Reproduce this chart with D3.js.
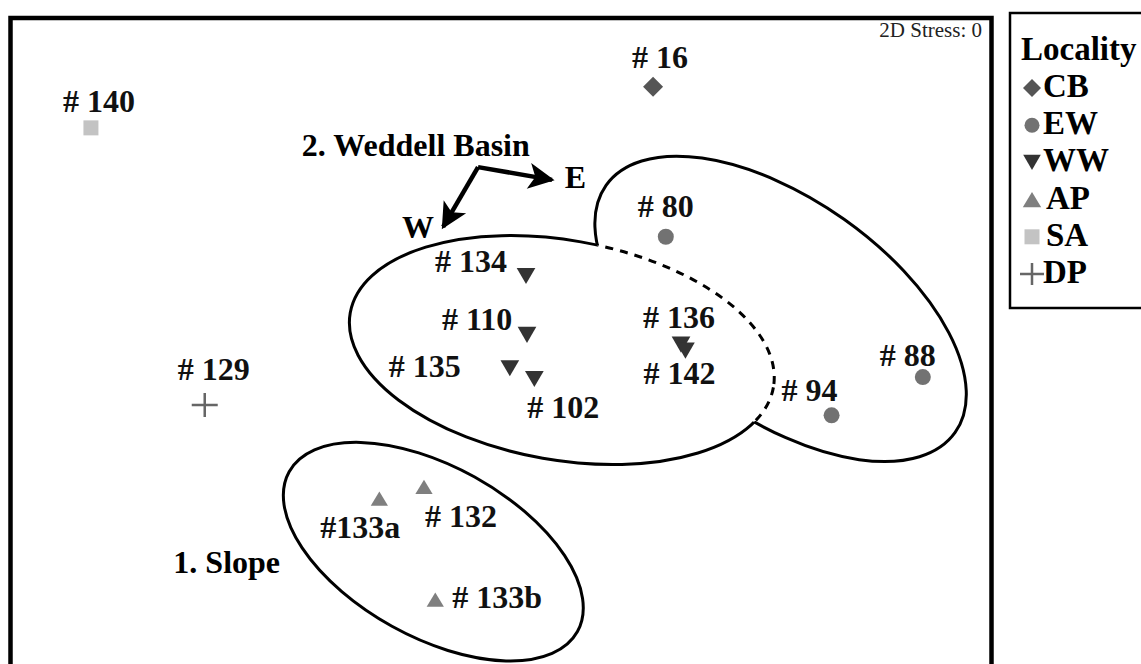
<!DOCTYPE html>
<html><head><meta charset="utf-8">
<script src="https://cdn.jsdelivr.net/npm/d3@7"></script>
<style>
html,body{margin:0;padding:0;background:#fff;}
svg{display:block;}
text{font-family:"Liberation Serif","Times New Roman",serif;}
</style></head>
<body>
<svg id="chart" width="1141" height="664"></svg>
<script>
// ---------- data ----------
const sampleIds  = ["# 16","# 140","# 80","# 94","# 88","# 134","# 110","# 135","# 102","# 136","# 142","#133a","# 132","# 133b","# 129"];
const localities = ["CB","SA","EW","EW","EW","WW","WW","WW","WW","WW","WW","AP","AP","AP","DP"];
const mds1 = [15.5,-41.8,16.8,33.7,43.0,2.55,2.65,0.9,3.4,18.35,18.8,-12.4,-7.85,-6.7,-30.2];
const mds2 = [26.0,21.8,10.7,-7.5,-3.6,6.7,0.7,-2.7,-3.8,-0.3,-0.9,-16.0,-14.8,-26.3,-6.45];
const legendLabels = ["CB","EW","WW","AP","SA","DP"];
const stressLabel = "2D Stress: 0";
// group outlines (data units): cx, cy, rx, ry, screen rotation (deg)
const groupNames = ["1. Slope","2. Weddell Basin"];
const slopeEllipse = {cx:-6.9, cy:-21.4, rx:16.8, ry:8.7, rot:29};
const wwEllipse    = {cx:6.2,  cy:-0.85, rx:21.9, ry:11.2, rot:10};
const ewEllipse    = {cx:28.5, cy:3.35,  rx:21.8, ry:11.2, rot:35.3};
// direction arrow (data units)
const arrowJunction = [-2.34, 17.8];
const arrowE = [5.2, 16.5];
const arrowW = [-5.9, 11.7];

// ---------- layout (pixels) ----------
const labelDx = [-21,-28,-28,-50,-43,-91,-85,-121,-7,-38,-42,-59,1,17,-27];
const labelDy = [-19,-16,-20,-14,-11,-4,-5,9,39,-17,33,39,40,8,-25];
const colors = {CB:"#555555", EW:"#727272", WW:"#333333", AP:"#7f7f7f", SA:"#c3c3c3", DP:"#666666"};

const svg = d3.select("#chart");
const PX = 9.81;
const xs = d3.scaleLinear().domain([-50, 50]).range([10.5, 10.5 + 100*PX]);
const ys = d3.scaleLinear().domain([33, -34]).range([18, 18 + 67*PX]);

function symbolPath(type, s) {
  const p = d3.path();
  if (type === "CB") { const h=s/2; p.moveTo(0,-h); p.lineTo(h,0); p.lineTo(0,h); p.lineTo(-h,0); p.closePath(); }
  else if (type === "SA") { const h=s/2; p.rect(-h,-h,s,s); }
  else if (type === "EW") { p.arc(0,0,s/2,0,2*Math.PI); }
  else if (type === "WW") { const w=s*1.1/2, h=s*0.95/2; p.moveTo(-w,-h); p.lineTo(w,-h); p.lineTo(0,h); p.closePath(); }
  else if (type === "AP") { const w=s*1.15/2, h=s*0.95/2; p.moveTo(-w,h); p.lineTo(w,h); p.lineTo(0,-h); p.closePath(); }
  else if (type === "DP") { const w=s/2, h=s*0.46; p.moveTo(-w,0); p.lineTo(w,0); p.moveTo(0,-h); p.lineTo(0,h); }
  return p.toString();
}
const markerSize = {CB:20, SA:15, EW:16, WW:17, AP:15, DP:26};
const legendSize = {CB:18, SA:15, EW:15, WW:16, AP:16, DP:24};

function drawSymbol(g, type, x, y, s) {
  const el = g.append("path").attr("d", symbolPath(type, s)).attr("transform", `translate(${x},${y})`);
  if (type === "DP") el.attr("fill","none").attr("stroke",colors[type]).attr("stroke-width",2.5);
  else el.attr("fill", colors[type]);
}

// ---------- frame ----------
svg.append("rect").attr("x",10.5).attr("y",18).attr("width",981).attr("height",700)
  .attr("fill","none").attr("stroke","#000").attr("stroke-width",4.5);

svg.append("text").attr("x",982).attr("y",37).attr("text-anchor","end")
  .attr("font-size",21).attr("fill","#222").text(stressLabel);

// ---------- group outlines ----------
function ellAttrs(sel, e) {
  const cx = xs(e.cx), cy = ys(e.cy);
  return sel.attr("cx",cx).attr("cy",cy).attr("rx",e.rx*PX).attr("ry",e.ry*PX)
    .attr("transform",`rotate(${e.rot} ${cx} ${cy})`);
}
const defs = svg.append("defs");
const mOutB = defs.append("mask").attr("id","outsideB").attr("maskUnits","userSpaceOnUse")
  .attr("x",0).attr("y",0).attr("width",1141).attr("height",664);
mOutB.append("rect").attr("width",1141).attr("height",664).attr("fill","#fff");
ellAttrs(mOutB.append("ellipse"), ewEllipse).attr("fill","#000");
const mOutA = defs.append("mask").attr("id","outsideA").attr("maskUnits","userSpaceOnUse")
  .attr("x",0).attr("y",0).attr("width",1141).attr("height",664);
mOutA.append("rect").attr("width",1141).attr("height",664).attr("fill","#fff");
ellAttrs(mOutA.append("ellipse"), wwEllipse).attr("fill","#000");
const cInB = defs.append("clipPath").attr("id","insideB");
ellAttrs(cInB.append("ellipse"), ewEllipse);

const hull = svg.append("g").attr("fill","none").attr("stroke","#000").attr("stroke-width",3);
ellAttrs(hull.append("g").attr("mask","url(#outsideB)").append("ellipse"), wwEllipse);
ellAttrs(hull.append("g").attr("mask","url(#outsideA)").append("ellipse"), ewEllipse);
ellAttrs(hull.append("g").attr("clip-path","url(#insideB)").append("ellipse"), wwEllipse)
  .attr("stroke-dasharray","8 7").attr("stroke-width",3);
ellAttrs(hull.append("ellipse"), slopeEllipse);

// ---------- arrow ----------
defs.append("marker").attr("id","ah").attr("viewBox","0 0 10 10").attr("refX",9).attr("refY",5)
  .attr("markerUnits","userSpaceOnUse").attr("markerWidth",30).attr("markerHeight",26).attr("orient","auto")
  .append("path").attr("d","M0,0 L10,5 L0,10 L2.5,5 Z").attr("fill","#000");
const ag = svg.append("g").attr("stroke","#000").attr("stroke-width",4.5).attr("fill","none");
[arrowE, arrowW].forEach(t => {
  ag.append("line").attr("x1",xs(arrowJunction[0])).attr("y1",ys(arrowJunction[1]))
    .attr("x2",xs(t[0])).attr("y2",ys(t[1])).attr("marker-end","url(#ah)");
});

// ---------- group labels ----------
const groupLabelPos = [[-33.4,-23.6],[-20.3,18.9]];
groupNames.forEach((n,i) => {
  svg.append("text").attr("x",xs(groupLabelPos[i][0])).attr("y",ys(groupLabelPos[i][1]))
    .attr("font-size",32).attr("font-weight","bold").text(n);
});
svg.append("text").attr("x",xs(6.5)).attr("y",ys(15.7)).attr("font-size",32).attr("font-weight","bold").text("E");
svg.append("text").attr("x",xs(-10.1)).attr("y",ys(10.6)).attr("font-size",32).attr("font-weight","bold").text("W");

// ---------- points ----------
const pts = svg.append("g");
sampleIds.forEach((id,i) => {
  const x = xs(mds1[i]), y = ys(mds2[i]), t = localities[i];
  drawSymbol(pts, t, x, y, markerSize[t]);
  pts.append("text").attr("x", x + labelDx[i]).attr("y", y + labelDy[i])
    .attr("font-size",32).attr("font-weight","bold").attr("fill","#111").text(id);
});

// ---------- legend ----------
svg.append("rect").attr("x",1010).attr("y",13).attr("width",200).attr("height",295)
  .attr("fill","none").attr("stroke","#000").attr("stroke-width",2.5);
svg.append("text").attr("x",1021).attr("y",60).attr("font-size",33).attr("font-weight","bold").text("Locality");
legendLabels.forEach((l,i) => {
  const b = 97 + i*37.2;
  drawSymbol(svg, l, 1032, b - 9, legendSize[l]);
  svg.append("text").attr("x", (l==="AP"||l==="SA") ? 1046 : 1043).attr("y", b)
    .attr("font-size",33).attr("font-weight","bold").text(l);
});
</script>
</body></html>
